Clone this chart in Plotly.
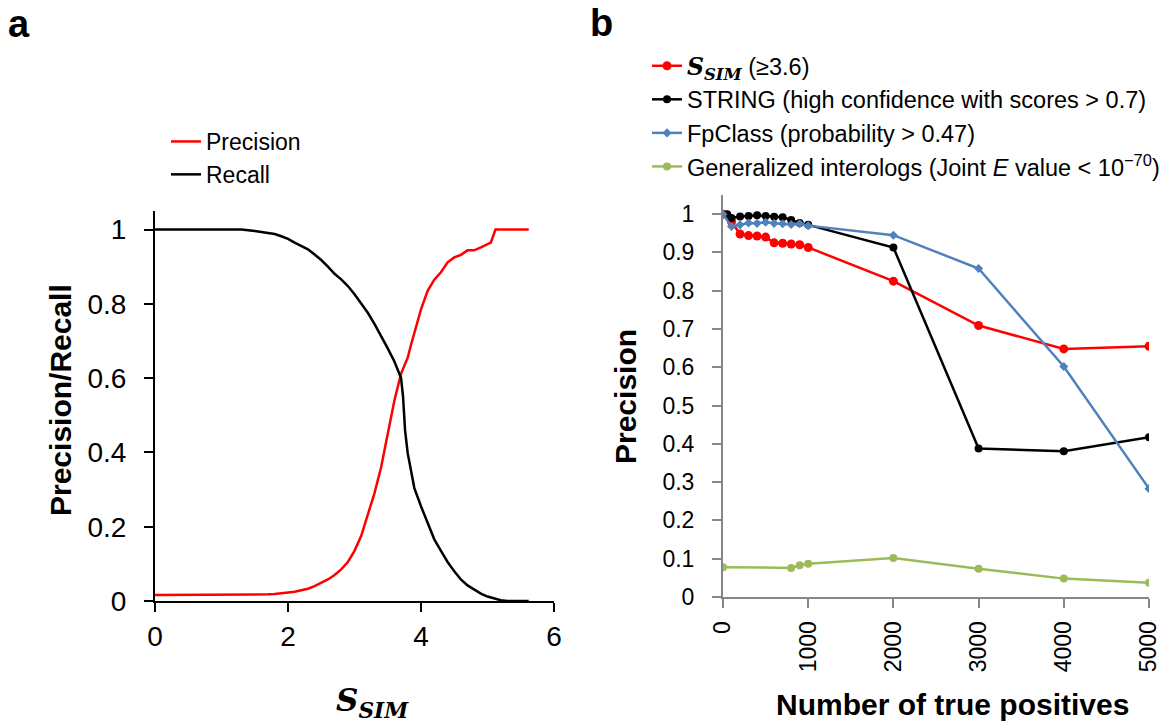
import plotly.graph_objects as go

# ---------- Panel a data ----------
s_sim = [0.0, 1.3, 1.5, 1.7, 1.8, 1.9, 2.0, 2.1, 2.2, 2.3, 2.4, 2.5, 2.6, 2.7, 2.8, 2.9,
         3.0, 3.1, 3.2, 3.3, 3.4, 3.5, 3.6, 3.7, 3.73, 3.76, 3.8, 3.85, 3.9,
         4.0, 4.1, 4.2, 4.3, 4.4, 4.5, 4.6, 4.7, 4.8, 4.9, 5.0, 5.05, 5.12, 5.2, 5.3, 5.4, 5.62]
precision_a = [0.016, 0.016, 0.017, 0.018, 0.019, 0.02, 0.023, 0.025, 0.028, 0.033, 0.04, 0.048,
               0.058, 0.07, 0.085, 0.105, 0.135, 0.175, 0.23, 0.29, 0.36, 0.45, 0.54, 0.612,
               0.625, 0.64, 0.655, 0.69, 0.72, 0.785, 0.835, 0.865, 0.885, 0.912, 0.925, 0.932,
               0.944, 0.944, 0.952, 0.962, 0.965, 1.0, 1.0, 1.0, 1.0, 1.0]
recall_a = [1.0, 1.0, 0.996, 0.992, 0.988, 0.982, 0.975, 0.965, 0.956, 0.947, 0.933, 0.918,
            0.9, 0.881, 0.866, 0.848, 0.826, 0.802, 0.776, 0.746, 0.714, 0.68, 0.645, 0.6,
            0.55, 0.46, 0.398, 0.345, 0.304, 0.255, 0.21, 0.166, 0.135, 0.105, 0.08, 0.058,
            0.042, 0.03, 0.02, 0.012, 0.009, 0.005, 0.002, 0.0, 0.0, 0.0]

# ---------- Panel b data ----------
tp_ssim = [0, 100, 200, 300, 400, 500, 600, 700, 800, 900, 1000, 2000, 3000, 4000, 5000]
prec_ssim = [1.0, 0.98, 0.948, 0.944, 0.943, 0.94, 0.925, 0.924, 0.922, 0.92, 0.913,
             0.825, 0.709, 0.648, 0.655]
tp_string = [0, 50, 100, 200, 300, 400, 500, 600, 700, 800, 900, 1000, 2000, 3000, 4000, 5000]
prec_string = [1.0, 1.0, 0.99, 0.994, 0.995, 0.997, 0.995, 0.993, 0.992, 0.985, 0.977,
               0.972, 0.913, 0.388, 0.381, 0.417]
tp_fpclass = [0, 100, 200, 300, 400, 500, 600, 700, 800, 900, 1000, 2000, 3000, 4000, 5000]
prec_fpclass = [1.0, 0.968, 0.972, 0.977, 0.976, 0.979, 0.976, 0.975, 0.973, 0.975, 0.97,
                0.945, 0.858, 0.602, 0.283]
tp_interologs = [0, 800, 900, 1000, 2000, 3000, 4000, 5000]
prec_interologs = [0.078, 0.076, 0.083, 0.087, 0.102, 0.074, 0.048, 0.037]

xticks_a = [0, 2, 4, 6]
yticks_a = [0, 0.2, 0.4, 0.6, 0.8, 1]
xticks_b = [0, 1000, 2000, 3000, 4000, 5000]

RED = "#FF0000"
BLACK = "#000000"
BLUE = "#4F81BD"
GREEN = "#9BBB59"
GREY = "#868686"
FONT = "Liberation Sans, Arial, sans-serif"
SERIF = "DejaVu Serif, serif"

W, H = 1168, 722
def px(x):
    return x / W
def py(y):
    return 1 - y / H

fig = go.Figure()

# Panel a
fig.add_trace(go.Scatter(x=s_sim, y=precision_a, mode="lines", name="Precision",
                         line=dict(color=RED, width=2.5), xaxis="x", yaxis="y", legend="legend"))
fig.add_trace(go.Scatter(x=s_sim, y=recall_a, mode="lines", name="Recall",
                         line=dict(color=BLACK, width=2.5), xaxis="x", yaxis="y", legend="legend"))

# Panel b
ssim_label = ('<span style="font-family:DejaVu Serif"><b><i>S</i></b>'
              '<sub><b><i>SIM</i></b></sub></span> (≥3.6)')
fig.add_trace(go.Scatter(x=tp_ssim, y=prec_ssim, mode="lines+markers", name=ssim_label,
                         line=dict(color=RED, width=2.5), marker=dict(color=RED, size=9, symbol="circle"),
                         xaxis="x2", yaxis="y2", legend="legend2", legendgroup="g1"))
fig.add_trace(go.Scatter(x=tp_string, y=prec_string, mode="lines+markers",
                         name="STRING (high confidence with scores > 0.7)",
                         line=dict(color=BLACK, width=2.5), marker=dict(color=BLACK, size=8, symbol="circle"),
                         xaxis="x2", yaxis="y2", legend="legend2", legendgroup="g2"))
fig.add_trace(go.Scatter(x=tp_fpclass, y=prec_fpclass, mode="lines+markers",
                         name="FpClass (probability > 0.47)",
                         line=dict(color=BLUE, width=2.5), marker=dict(color=BLUE, size=7, symbol="diamond"),
                         xaxis="x2", yaxis="y2", legend="legend2", legendgroup="g3"))
fig.add_trace(go.Scatter(x=tp_interologs, y=prec_interologs, mode="lines+markers",
                         name="Generalized interologs (Joint <i>E</i> value < 10<sup>−70</sup>)",
                         line=dict(color=GREEN, width=2.5), marker=dict(color=GREEN, size=8, symbol="circle"),
                         xaxis="x2", yaxis="y2", legend="legend2", legendgroup="g4"))

axis_a = dict(showline=True, linecolor=BLACK, linewidth=2, ticks="outside", ticklen=9,
              tickwidth=2, tickcolor=BLACK, showgrid=False, zeroline=False, automargin=False,
              tickfont=dict(family=FONT, size=28, color=BLACK))
axis_b = dict(showline=True, linecolor=GREY, linewidth=2, ticks="outside", ticklen=9,
              tickwidth=2, tickcolor=GREY, showgrid=False, zeroline=False, automargin=False,
              tickfont=dict(family=FONT, size=23, color=BLACK))

fig.update_layout(
    width=W, height=H,
    margin=dict(l=0, r=0, t=0, b=0, autoexpand=False),
    paper_bgcolor="white", plot_bgcolor="white",
    showlegend=True,
    xaxis=dict(domain=[px(155), px(554)], range=[0, 6], tickvals=xticks_a,
               anchor="y", ticklabelstandoff=0, **axis_a),
    yaxis=dict(domain=[py(601), py(211)], range=[0, 1.05], tickvals=yticks_a,
               anchor="x", ticklabelstandoff=12, **axis_a),
    xaxis2=dict(domain=[px(723), px(1149)], range=[0, 5000], tickvals=xticks_b,
                tickangle=-90, anchor="y2", ticklabelstandoff=4, **axis_b),
    yaxis2=dict(domain=[py(597), py(195)], range=[0, 1.05], dtick=0.1, tick0=0,
                anchor="x2", ticklabelstandoff=13, **axis_b),
    legend=dict(x=px(166), y=py(120), xanchor="left", yanchor="top",
                font=dict(family=FONT, size=23, color=BLACK), bgcolor="rgba(0,0,0,0)",
                itemwidth=30, tracegroupgap=0),
    legend2=dict(x=px(647), y=py(44), xanchor="left", yanchor="top",
                 font=dict(family=FONT, size=23.5, color=BLACK), bgcolor="rgba(0,0,0,0)",
                 itemwidth=30, tracegroupgap=0),
    annotations=[
        dict(text="<b>a</b>", x=px(6), y=py(24), xref="paper", yref="paper", xanchor="left",
             yanchor="middle", showarrow=False, font=dict(family=FONT, size=38, color=BLACK)),
        dict(text="<b>b</b>", x=px(588), y=py(23), xref="paper", yref="paper", xanchor="left",
             yanchor="middle", showarrow=False, font=dict(family=FONT, size=38, color=BLACK)),
        dict(text="<b>Precision/Recall</b>", x=px(60), y=py(400), xref="paper", yref="paper",
             xanchor="center", yanchor="middle",
             textangle=-90, showarrow=False, font=dict(family=FONT, size=30, color=BLACK)),
        dict(text="<b><i>S</i></b><sub><b><i>SIM</i></b></sub>", x=px(372), y=py(702),
             xref="paper", yref="paper", xanchor="center", yanchor="middle", showarrow=False,
             font=dict(family=SERIF, size=31, color=BLACK)),
        dict(text="<b>Precision</b>", x=px(625), y=py(397), xref="paper", yref="paper",
             xanchor="center", yanchor="middle",
             textangle=-90, showarrow=False, font=dict(family=FONT, size=30, color=BLACK)),
        dict(text="<b>Number of true positives</b>", x=px(952), y=py(704), xref="paper",
             yref="paper", xanchor="center", yanchor="middle", showarrow=False,
             font=dict(family=FONT, size=30, color=BLACK)),
    ],
)

fig.write_html("out.html")
